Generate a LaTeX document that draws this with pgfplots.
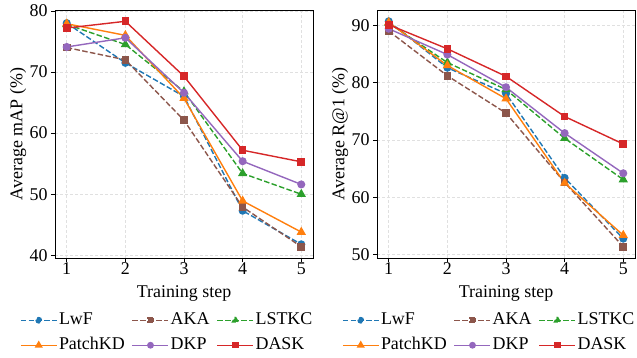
\documentclass[border=0pt]{standalone}
\usepackage{fontspec}
\setmainfont{Liberation Serif}
\usepackage{pgfplots}
\pgfplotsset{compat=1.18}
\definecolor{tblue}{HTML}{1F77B4}
\definecolor{torange}{HTML}{FF7F0E}
\definecolor{tgreen}{HTML}{2CA02C}
\definecolor{tred}{HTML}{D62728}
\definecolor{tpurple}{HTML}{9467BD}
\definecolor{tbrown}{HTML}{8C564B}
\tikzset{
  dsh/.style={line width=1.4bp, dash pattern=on 5.5bp off 2.4bp},
  sld/.style={line width=1.4bp, solid},
  mcirc/.style={mark=*, mark size=3.3bp, mark options={solid}},
  msq/.style={mark=square*, mark size=3.1bp, mark options={solid}},
  mtri/.style={mark=triangle*, mark size=4bp, mark options={solid}},
}
\pgfplotsset{
  myax/.style={
    scale only axis, width=258bp, height=248bp,
    anchor=south west,
    font=\fontsize{18}{21}\selectfont,
    xmin=0.8, xmax=5.2, xtick={1,2,3,4,5}, xticklabels={1,2,3,4,5},
    xticklabel style={yshift=2.5bp},
    tick align=outside, major tick length=4bp, minor tick num=0,
    tick style={black, line width=0.7bp},
    axis line style={line width=0.8bp},
    xtick pos=bottom, ytick pos=left,
    grid=major, major grid style={dash pattern=on 3bp off 2bp, color=black!12, line width=0.6bp},
    xlabel={Training step},
    xlabel style={at={(axis description cs:0.5,-0.145)}, anchor=center},
    ylabel style={at={(axis description cs:-0.143,0.5)}, anchor=center},
    legend columns=3,
    legend style={draw=none, fill=none, inner sep=0pt, outer sep=0pt,
      at={(axis description cs:0,0)}, anchor=north west, xshift=-35bp, yshift=-54bp,
      nodes={inner sep=0pt, text height=12.5bp, text depth=4bp},
      row sep=8.5bp,
      /tikz/every odd column/.append style={column sep=1.5bp},
      /tikz/every even column/.append style={column sep=7bp}},
    legend cell align=left,
    legend image code/.code={\draw[mark repeat=2,mark phase=2,##1, line width=1.5bp, mark options={scale=0.8}] plot coordinates {(0bp,0bp) (18bp,0bp) (36bp,0bp)};},
  },
}
\begin{document}
\begin{tikzpicture}
\useasboundingbox (0,0) rectangle (637bp,358bp);
\begin{axis}[myax, at={(55bp,100bp)}, ymin=39.56, ymax=80.15, ytick={40,50,60,70,80},
  yticklabels={40,50,60,70,80},
  ylabel={Average mAP (\%)}]
\addplot[dsh, tblue, mcirc] coordinates {(1,78.0) (2,71.5) (3,66.0) (4,47.3) (5,41.8)};
\addlegendentry{LwF}
\addplot[dsh, tbrown, msq] coordinates {(1,74.0) (2,72.0) (3,62.1) (4,47.9) (5,41.4)};
\addlegendentry{AKA}
\addplot[dsh, tgreen, mtri] coordinates {(1,77.8) (2,74.5) (3,66.8) (4,53.4) (5,50.0)};
\addlegendentry{LSTKC}
\addplot[sld, torange, mtri] coordinates {(1,77.9) (2,76.0) (3,65.7) (4,48.9) (5,43.8)};
\addlegendentry{PatchKD}
\addplot[sld, tpurple, mcirc] coordinates {(1,74.1) (2,75.6) (3,66.6) (4,55.4) (5,51.6)};
\addlegendentry{DKP}
\addplot[sld, tred, msq] coordinates {(1,77.2) (2,78.3) (3,69.3) (4,57.2) (5,55.3)};
\addlegendentry{DASK}
\end{axis}
\begin{axis}[myax, at={(377bp,100bp)}, ymin=49.43, ymax=92.67, ytick={50,60,70,80,90},
  yticklabels={50,60,70,80,90},
  ylabel={Average R@1 (\%)}]
\addplot[dsh, tblue, mcirc] coordinates {(1,90.7) (2,82.6) (3,78.1) (4,63.4) (5,52.8)};
\addlegendentry{LwF}
\addplot[dsh, tbrown, msq] coordinates {(1,89.0) (2,81.2) (3,74.7) (4,62.6) (5,51.4)};
\addlegendentry{AKA}
\addplot[dsh, tgreen, mtri] coordinates {(1,90.4) (2,83.5) (3,78.8) (4,70.3) (5,63.1)};
\addlegendentry{LSTKC}
\addplot[sld, torange, mtri] coordinates {(1,90.5) (2,83.0) (3,77.2) (4,62.5) (5,53.4)};
\addlegendentry{PatchKD}
\addplot[sld, tpurple, mcirc] coordinates {(1,89.4) (2,84.9) (3,79.2) (4,71.2) (5,64.2)};
\addlegendentry{DKP}
\addplot[sld, tred, msq] coordinates {(1,90.1) (2,85.9) (3,81.1) (4,74.1) (5,69.3)};
\addlegendentry{DASK}
\end{axis}
\end{tikzpicture}
\end{document}
